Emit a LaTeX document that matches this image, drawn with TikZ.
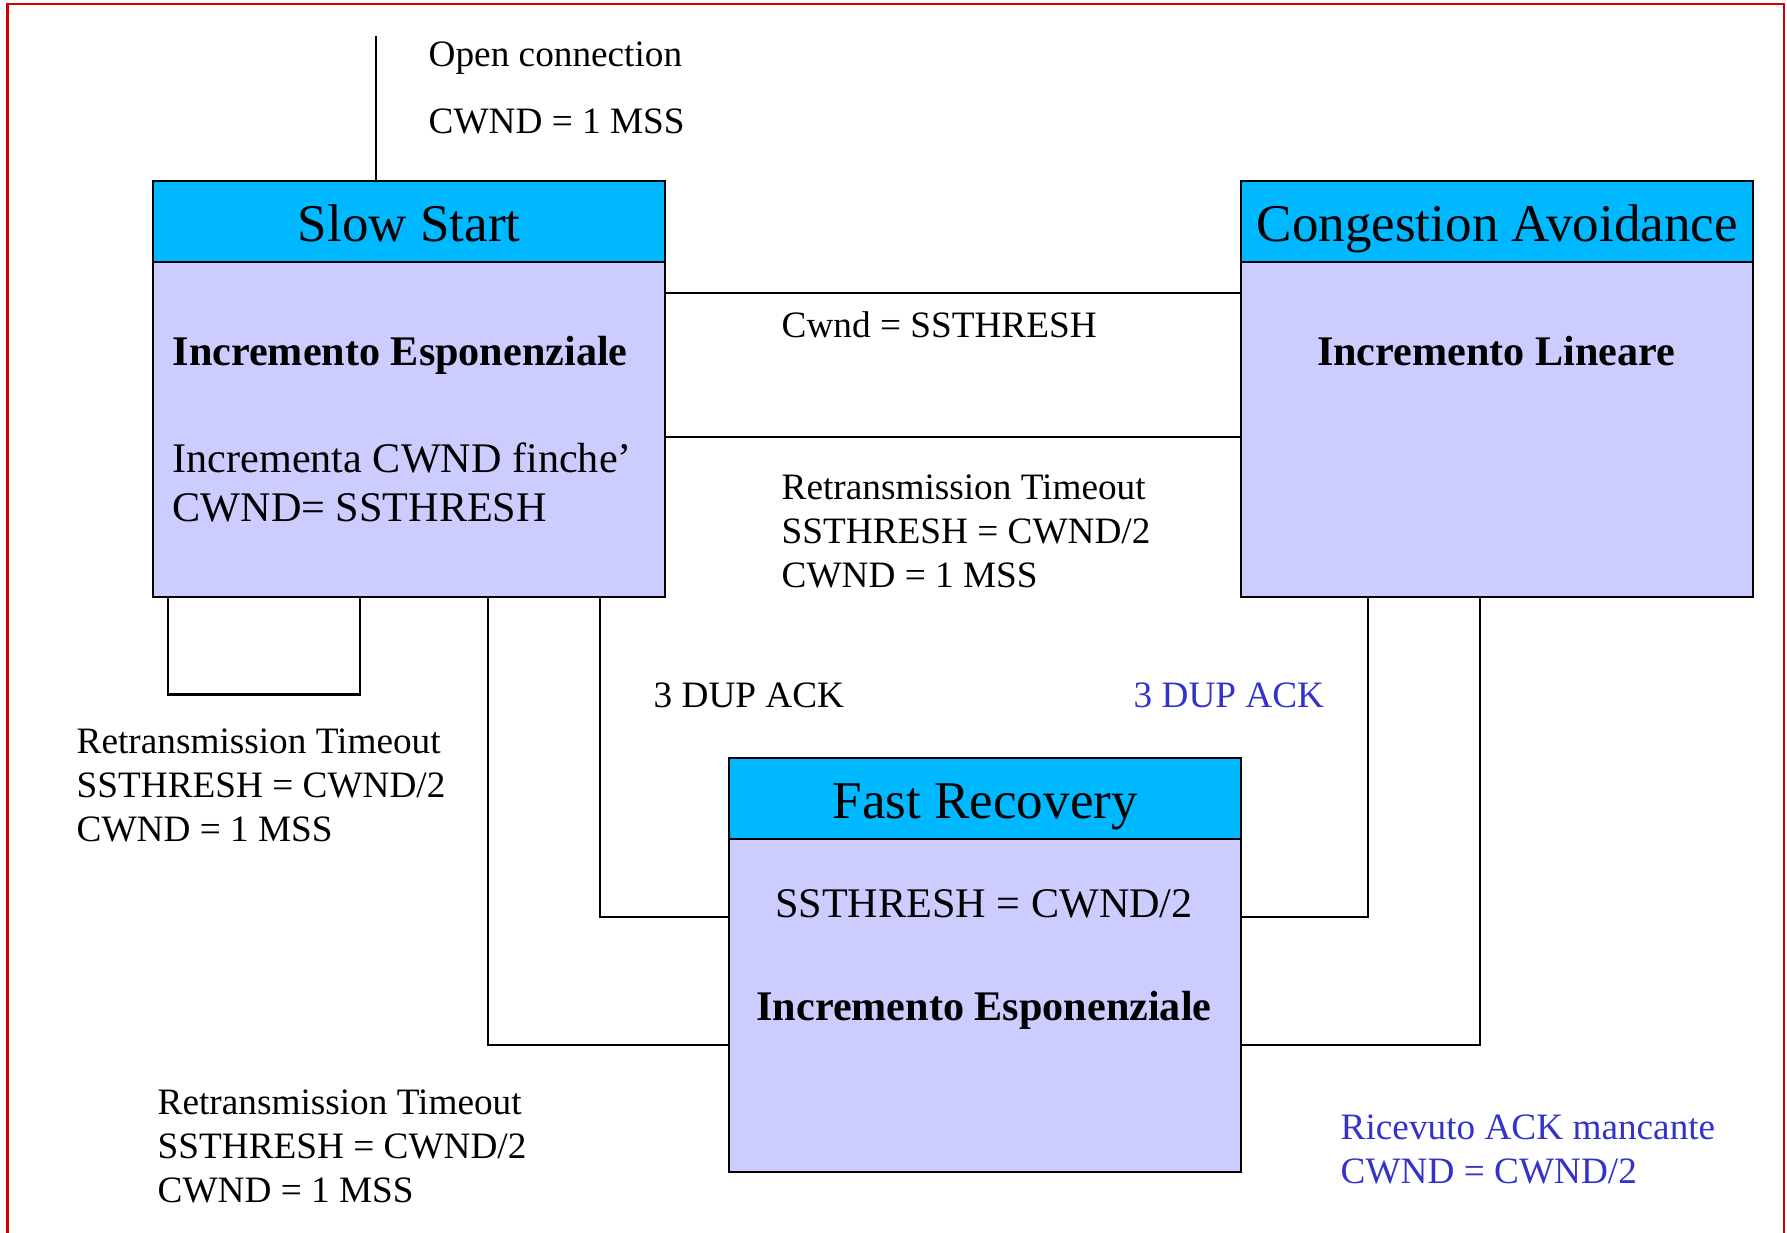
\documentclass[tikz,border=0pt]{standalone}
\usepackage{fontspec}
\setmainfont{Liberation Serif}
\usetikzlibrary{positioning}
\definecolor{hdcyan}{RGB}{0,184,255}
\definecolor{bodylav}{RGB}{204,204,255}
\definecolor{txtblue}{RGB}{51,51,204}
\definecolor{framered}{RGB}{210,0,0}
\tikzset{
  statebox/.style={draw, line width=0.7pt, fill=bodylav, minimum width=5.12cm, minimum height=4.16cm, anchor=north west, inner sep=0pt},
  statehd/.style={draw, line width=0.7pt, fill=hdcyan, minimum width=5.12cm, minimum height=0.81cm, anchor=north west, inner sep=0pt, font=\fontsize{15.1}{18}\selectfont, text height=0.39cm, text depth=0cm},
  lbl/.style={inner sep=0pt, font=\fontsize{10.6}{12.6}\selectfont},
  boxtxt/.style={inner sep=0pt, font=\fontsize{12}{14.1}\selectfont},
  boldtxt/.style={inner sep=0pt, font=\fontsize{12}{14.1}\selectfont\bfseries},
  link/.style={line width=0.65pt},
}
\begin{document}
\begin{tikzpicture}
    \useasboundingbox (0,0) rectangle (17.87,-12.33);
    % Frame
    \draw[framered, line width=0.57pt] (0.075,-12.33) -- (0.075,-0.043) -- (17.835,-0.043) -- (17.835,-12.33);

    % States
    \node[statebox] (ss) at (1.52,-1.80) {};
    \node[statehd] (sshd) at (ss.north west) {Slow Start};
    \node[statebox] (ca) at (12.40,-1.80) {};
    \node[statehd] (cahd) at (ca.north west) {Congestion Avoidance};
    \node[statebox, minimum height=4.14cm] (fr) at (7.28,-7.57) {};
    \node[statehd] (frhd) at (fr.north west) {Fast Recovery};

    % Text inside the states
    \node[boldtxt, anchor=base west] (ssexp) at (1.72,-3.66) {Incremento Esponenziale};
    \node[boxtxt, anchor=north west, align=left] (ssinc) at (1.72,-4.42) {Incrementa CWND finche’\\CWND= SSTHRESH};
    \node[boldtxt, anchor=base] (calin) at (14.96,-3.66) {Incremento Lineare};
    \node[boxtxt, anchor=base] (frth) at (9.84,-9.17) {SSTHRESH = CWND/2};
    \node[boldtxt, anchor=base] (frexp) at (9.84,-10.20) {Incremento Esponenziale};

    % Open connection
    \coordinate (init) at (3.76,-0.36);
    \draw[link] (init) -- (init |- ss.north);
    \node[lbl, anchor=base west] (open) at (4.28,-0.67) {Open connection};
    \node[lbl, anchor=base west] (opencw) at (4.28,-1.34) {CWND = 1 MSS};

    % Slow Start <-> Congestion Avoidance
    \draw[link] ([yshift=-1.13cm]ss.north east) -- ([yshift=-1.13cm]ca.north west);
    \draw[link] ([yshift=-2.57cm]ss.north east) -- ([yshift=-2.57cm]ca.north west);
    \node[lbl, anchor=base west] (toca) at (7.81,-3.38) {Cwnd = SSTHRESH};
    \node[lbl, anchor=north west, align=left] (rtomid) at (7.81,-4.74) {Retransmission Timeout\\SSTHRESH = CWND/2\\CWND = 1 MSS};

    % Self loop on Slow Start
    \draw[link] ([xshift=0.16cm]ss.south west) -- ++(0,-0.96) -| ([xshift=2.08cm]ss.south west);
    \node[lbl, anchor=north west, align=left] (rtoloop) at (0.76,-7.28) {Retransmission Timeout\\SSTHRESH = CWND/2\\CWND = 1 MSS};

    % Links to Fast Recovery
    \draw[link] ([xshift=4.48cm]ss.south west) |- ([yshift=-1.60cm]fr.north west);
    \draw[link] ([xshift=3.36cm]ss.south west) |- ([yshift=-2.88cm]fr.north west);
    \draw[link] ([xshift=1.28cm]ca.south west) |- ([yshift=-1.60cm]fr.north east);
    \draw[link] ([xshift=2.40cm]ca.south west) |- ([yshift=-2.88cm]fr.north east);
    \node[lbl, anchor=base west] (dupss) at (6.53,-7.07) {3 DUP ACK};
    \node[lbl, anchor=base west, text=txtblue] (dupca) at (11.33,-7.07) {3 DUP ACK};
    \node[lbl, anchor=north west, align=left] (rtofr) at (1.57,-10.89) {Retransmission Timeout\\SSTHRESH = CWND/2\\CWND = 1 MSS};
    \node[lbl, anchor=north west, align=left, text=txtblue] (ackfr) at (13.40,-11.14) {Ricevuto ACK mancante\\CWND = CWND/2};
  \end{tikzpicture}
\end{document}
